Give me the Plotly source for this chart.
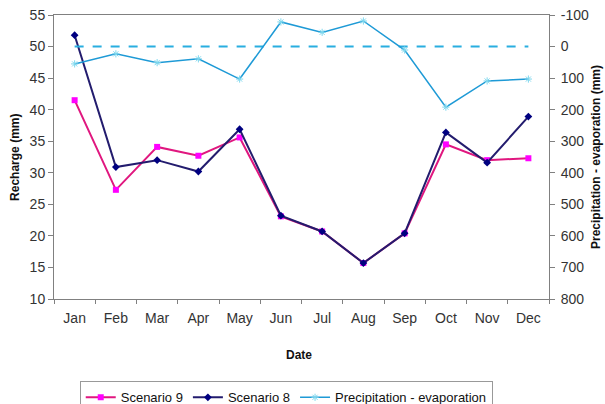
import plotly.graph_objects as go

months = ["Jan", "Feb", "Mar", "Apr", "May", "Jun", "Jul", "Aug", "Sep", "Oct", "Nov", "Dec"]
scenario9 = [41.5, 27.3, 34.1, 32.7, 35.6, 23.1, 20.7, 15.7, 20.4, 34.5, 32.0, 32.3]
scenario8 = [51.8, 30.9, 32.0, 30.2, 36.9, 23.2, 20.7, 15.7, 20.4, 36.4, 31.6, 38.9]
precip_evap = [55, 23, 51, 39, 103, -78, -45, -81, 11, 192, 109, 103]
zero_line = [0] * len(months)
y2_ticks = [-100, 0, 100, 200, 300, 400, 500, 600, 700, 800]
y2_tick_labels = ["-100", "0", "100", "200", "300", "400", "500", "600", "700", "800"]

FONT = "Liberation Sans, Arial, sans-serif"
AX = "#808080"

fig = go.Figure()
fig.add_trace(go.Scatter(
    x=months, y=zero_line, yaxis="y2", mode="lines",
    line=dict(color="#29aee0", width=2, dash="dash"),
    showlegend=False, hoverinfo="skip"))
fig.add_trace(go.Scatter(
    x=months, y=scenario9, name="Scenario 9", mode="lines+markers",
    line=dict(color="#e0177f", width=2),
    marker=dict(symbol="square", size=6, color="#ff00ff")))
fig.add_trace(go.Scatter(
    x=months, y=scenario8, name="Scenario 8", mode="lines+markers",
    line=dict(color="#231c6e", width=2),
    marker=dict(symbol="diamond", size=6, color="#000080")))
fig.add_trace(go.Scatter(
    x=months, y=precip_evap, name="Precipitation - evaporation", yaxis="y2",
    mode="lines+markers",
    line=dict(color="#1e9ad6", width=1.5),
    marker=dict(symbol="asterisk-open", size=6, color="#7fd8ee", line=dict(width=1, color="#7fd8ee"))))

fig.update_layout(
    width=605, height=404,
    margin=dict(l=54, r=56, t=15, b=105, autoexpand=False),
    paper_bgcolor="white", plot_bgcolor="white",
    font=dict(family=FONT, size=13, color="#222"),
    xaxis=dict(
        type="category", range=[-0.5, 11.5], tickson="boundaries",
        showline=True, linecolor=AX, linewidth=1, mirror=True,
        ticks="outside", ticklen=4, tickcolor=AX, showgrid=False, automargin=False,
        ticklabelstandoff=6,
        tickfont=dict(size=14, color="#333")),
    yaxis=dict(
        range=[10, 55], dtick=5, showline=True, linecolor=AX, linewidth=1,
        ticks="outside", ticklen=5, tickcolor=AX, showgrid=False, zeroline=False,
        automargin=False, tickfont=dict(size=14, color="#333")),
    yaxis2=dict(
        overlaying="y", side="right", range=[800, -100],
        tickmode="array", tickvals=y2_ticks, ticktext=y2_tick_labels,
        showline=True, linecolor=AX, linewidth=1,
        ticks="outside", ticklen=5, tickcolor=AX, showgrid=False, zeroline=False,
        automargin=False, ticklabelstandoff=3, tickfont=dict(size=14, color="#333")),
    legend=dict(
        orientation="h", x=0.052, xanchor="left", y=-0.29, yanchor="top",
        bordercolor="#999", borderwidth=1, bgcolor="white",
        font=dict(size=13, color="#111"), itemwidth=30, tracegroupgap=0),
    showlegend=True,
    annotations=[
        dict(text="<b>Recharge (mm)</b>", xref="paper", yref="paper",
             x=-0.079, y=0.5, xanchor="center", yanchor="middle", textangle=-90,
             showarrow=False, font=dict(size=12, color="#111")),
        dict(text="<b>Precipitation - evaporation (mm)</b>", xref="paper", yref="paper",
             x=1.095, y=0.5, xanchor="center", yanchor="middle", textangle=-90,
             showarrow=False, font=dict(size=12, color="#111")),
        dict(text="<b>Date</b>", xref="paper", yref="paper",
             x=0.495, y=-0.197, xanchor="center", yanchor="middle",
             showarrow=False, font=dict(size=12, color="#111")),
    ],
)

fig.write_html("out.html", config={"displayModeBar": False},
               post_script="document.body.style.margin='0';document.body.style.padding='0';")
